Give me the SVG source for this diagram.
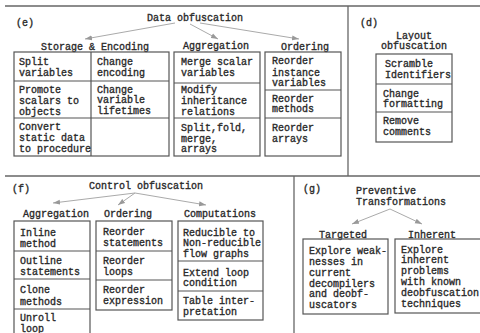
<svg xmlns="http://www.w3.org/2000/svg" width="480" height="333" viewBox="0 0 480 333">
<style>
text{font-family:"Liberation Mono","DejaVu Sans Mono",monospace;font-size:10px;fill:#2a2a2a;stroke:#2a2a2a;stroke-width:0.35}
.b{fill:none;stroke:#555;stroke-width:1.2}
.f{stroke:#666;stroke-width:1.3;fill:none}
.a{stroke:#aaa;stroke-width:1;fill:none;marker-end:url(#ah)}
.c{text-anchor:middle}
</style>
<defs>
<marker id="ah" markerWidth="8" markerHeight="6" refX="7" refY="3" orient="auto" markerUnits="userSpaceOnUse">
<path d="M0,0.5 L7,3 L0,5.5 Z" fill="#999"/>
</marker>
</defs>
<rect width="480" height="333" fill="#fff"/>
<g id="frame">
<line class="f" x1="5" y1="6" x2="480" y2="6"/>
<line class="f" x1="348" y1="6" x2="348" y2="176"/>
<line class="f" x1="5" y1="176" x2="480" y2="176"/>
<line class="f" x1="294" y1="176" x2="294" y2="333"/>
</g>
<g id="connectors">
<line class="a" x1="175" y1="23" x2="85" y2="39"/>
<line class="a" x1="190" y1="24" x2="218" y2="39"/>
<line class="a" x1="200" y1="23" x2="299" y2="39"/>
<line class="a" x1="135" y1="193" x2="53" y2="203"/>
<line class="a" x1="135" y1="193" x2="118" y2="205"/>
<line class="a" x1="135" y1="193" x2="206" y2="205"/>
<line class="a" x1="390" y1="209" x2="352" y2="224"/>
<line class="a" x1="390" y1="209" x2="422" y2="224"/>
</g>
<g id="data-obfuscation">
<text x="16" y="26">(e)</text>
<text class="c" x="195" y="21">Data obfuscation</text>
</g>
<g id="storage-encoding">
<text class="c" x="95" y="50">Storage &amp; Encoding</text>
<rect class="b" x="14" y="52" width="155" height="104"/>
<line class="b" x1="91" y1="52" x2="91" y2="156"/>
<line class="b" x1="14" y1="81" x2="169" y2="81"/>
<line class="b" x1="14" y1="118" x2="169" y2="118"/>
<text x="19" y="64.5">Split</text>
<text x="19" y="75.5">variables</text>
<text x="19" y="92.5">Promote</text>
<text x="19" y="103.5">scalars to</text>
<text x="19" y="114.5">objects</text>
<text x="19" y="129.5">Convert</text>
<text x="19" y="140.5">static data</text>
<text x="19" y="151.5">to procedure</text>
<text x="97" y="64.5">Change</text>
<text x="97" y="75.5">encoding</text>
<text x="97" y="92.5">Change</text>
<text x="97" y="102.5">variable</text>
<text x="97" y="113.5">lifetimes</text>
</g>
<g id="data-aggregation">
<text class="c" x="216" y="49">Aggregation</text>
<rect class="b" x="174" y="52" width="86" height="104"/>
<line class="b" x1="174" y1="83" x2="260" y2="83"/>
<line class="b" x1="174" y1="118" x2="260" y2="118"/>
<text x="181" y="64.5">Merge scalar</text>
<text x="181" y="75.5">variables</text>
<text x="181" y="92.5">Modify</text>
<text x="181" y="103.5">inheritance</text>
<text x="181" y="114.5">relations</text>
<text x="181" y="130.5">Split,fold,</text>
<text x="181" y="141.5">merge,</text>
<text x="181" y="151.5">arrays</text>
</g>
<g id="data-ordering">
<text class="c" x="305" y="50">Ordering</text>
<rect class="b" x="265" y="52" width="76" height="104"/>
<line class="b" x1="265" y1="90" x2="341" y2="90"/>
<line class="b" x1="265" y1="118" x2="341" y2="118"/>
<text x="272" y="63.5">Reorder</text>
<text x="272" y="75.5">instance</text>
<text x="272" y="85.5">variables</text>
<text x="272" y="101.5">Reorder</text>
<text x="272" y="111.5">methods</text>
<text x="272" y="130.5">Reorder</text>
<text x="272" y="141.5">arrays</text>
</g>
<g id="layout-obfuscation">
<text x="360" y="26">(d)</text>
<text class="c" x="414" y="38.5">Layout</text>
<text class="c" x="414" y="48.5">obfuscation</text>
<rect class="b" x="376" y="54" width="76" height="88"/>
<line class="b" x1="376" y1="84" x2="452" y2="84"/>
<line class="b" x1="376" y1="112" x2="452" y2="112"/>
<text x="385" y="66.5">Scramble</text>
<text x="385" y="77.5">Identifiers</text>
<text x="383" y="96.5">Change</text>
<text x="383" y="106.5">formatting</text>
<text x="383" y="123.5">Remove</text>
<text x="383" y="134.5">comments</text>
</g>
<g id="control-obfuscation">
<text x="12" y="192">(f)</text>
<text class="c" x="146" y="188.5">Control obfuscation</text>
</g>
<g id="control-aggregation">
<text class="c" x="56" y="216.5">Aggregation</text>
<rect class="b" x="14" y="221" width="76" height="120"/>
<line class="b" x1="14" y1="251" x2="90" y2="251"/>
<line class="b" x1="14" y1="279" x2="90" y2="279"/>
<line class="b" x1="14" y1="309" x2="90" y2="309"/>
<text x="20" y="235.5">Inline</text>
<text x="20" y="246.5">method</text>
<text x="20" y="263.5">Outline</text>
<text x="20" y="274.5">statements</text>
<text x="20" y="292.5">Clone</text>
<text x="20" y="304.5">methods</text>
<text x="20" y="320.5">Unroll</text>
<text x="20" y="331.5">loop</text>
</g>
<g id="control-ordering">
<text class="c" x="128" y="216.5">Ordering</text>
<rect class="b" x="96" y="221" width="76" height="89"/>
<line class="b" x1="96" y1="251" x2="172" y2="251"/>
<line class="b" x1="96" y1="280" x2="172" y2="280"/>
<text x="103" y="234.5">Reorder</text>
<text x="103" y="245.5">statements</text>
<text x="103" y="263.5">Reorder</text>
<text x="103" y="274.5">loops</text>
<text x="103" y="292.5">Reorder</text>
<text x="103" y="303.5">expression</text>
</g>
<g id="computations">
<text class="c" x="220" y="216.5">Computations</text>
<rect class="b" x="178" y="221" width="85" height="99"/>
<line class="b" x1="178" y1="261" x2="263" y2="261"/>
<line class="b" x1="178" y1="291" x2="263" y2="291"/>
<text x="183" y="235.5">Reducible to</text>
<text x="183" y="245.5">Non-reducible</text>
<text x="183" y="256.5">flow graphs</text>
<text x="183" y="275.5">Extend loop</text>
<text x="183" y="285.5">condition</text>
<text x="183" y="303.5">Table inter-</text>
<text x="183" y="314.5">pretation</text>
</g>
<g id="preventive-transformations">
<text x="303" y="191.5">(g)</text>
<text x="356" y="193.5">Preventive</text>
<text x="356" y="204.5">Transformations</text>
</g>
<g id="targeted">
<text class="c" x="343" y="237.5">Targeted</text>
<rect class="b" x="303" y="239" width="85" height="75"/>
<text x="309" y="253.5">Explore weak-</text>
<text x="309" y="264.5">nesses in</text>
<text x="309" y="275.5">current</text>
<text x="309" y="286.5">decompilers</text>
<text x="309" y="296.5">and deobf-</text>
<text x="309" y="307.5">uscators</text>
</g>
<g id="inherent">
<text class="c" x="432" y="237.5">Inherent</text>
<rect class="b" x="395" y="239" width="90" height="74"/>
<text x="401" y="252.5">Explore</text>
<text x="401" y="262.5">inherent</text>
<text x="401" y="273.5">problems</text>
<text x="401" y="284.5">with known</text>
<text x="401" y="295.5">deobfuscation</text>
<text x="401" y="306.5">techniques</text>
</g>
</svg>
